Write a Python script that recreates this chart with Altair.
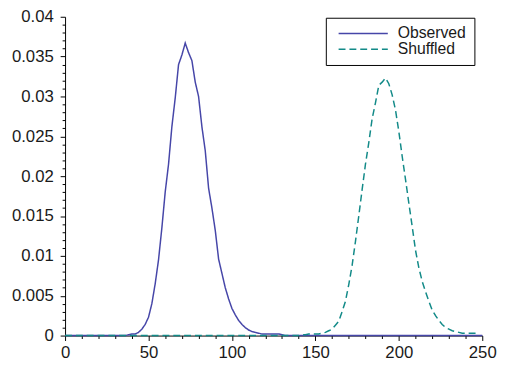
import altair as alt
import pandas as pd

series = ["Observed", "Shuffled"]
colors = ["#4646a8", "#128a88"]
dashes = [[1, 0], [7, 4]]

obs_x = [0] + list(range(36, 133, 2)) + [250]
obs_y = [0.0,
         0.0000, 0.0001, 0.0002, 0.0002, 0.0004, 0.0008, 0.0014, 0.0023, 0.0040, 0.0065,
         0.0095, 0.0135, 0.0180, 0.0215, 0.0262, 0.0298, 0.0340, 0.0352, 0.0367, 0.0355,
         0.0345, 0.0318, 0.0300, 0.0262, 0.0232, 0.0185, 0.0160, 0.0132, 0.0096, 0.0078,
         0.0060, 0.0046, 0.0034, 0.0026, 0.0019, 0.0014, 0.0010, 0.0007, 0.0005, 0.0004,
         0.0003, 0.0002, 0.0002, 0.0002, 0.0002, 0.0002, 0.0002, 0.0001, 0.0000,
         0.0]

shf_x = [0] + list(range(140, 249, 2))
shf_y = [0.0,
         0.0000, 0.0001, 0.0001, 0.0002, 0.0002, 0.0002, 0.0002, 0.0003, 0.0004, 0.0006,
         0.0008, 0.0013, 0.0018, 0.0030, 0.0043, 0.0064, 0.0088, 0.0118, 0.0150, 0.0183,
         0.0215, 0.0242, 0.0272, 0.0292, 0.0314, 0.0318, 0.0323, 0.0316, 0.0302, 0.0283,
         0.0256, 0.0225, 0.0196, 0.0166, 0.0137, 0.0107, 0.0085, 0.0068, 0.0055, 0.0043,
         0.0032, 0.0025, 0.0019, 0.0014, 0.0010, 0.0008, 0.0006, 0.0005, 0.0004, 0.0003,
         0.0003, 0.0003, 0.0003, 0.0003, 0.0003]

x_ticks = list(range(0, 251, 10))
y_ticks = [round(i * 0.001, 3) for i in range(41)]

df = pd.concat([
    pd.DataFrame({"series": series[0], "x": obs_x, "y": obs_y}),
    pd.DataFrame({"series": series[1], "x": shf_x, "y": shf_y}),
])

legend = alt.Legend(
    orient="none", legendX=265, legendY=1, title=None,
    strokeColor="black", fillColor="white", padding=8,
    symbolType="M-5,0H5", symbolSize=100, symbolStrokeWidth=1.5,
    symbolOffset=22,
    labelFont="Liberation Sans", labelFontSize=16, labelColor="#1a1a1a",
    labelOffset=27, rowPadding=0,
    labelExpr="datum.label + '\u00a0\u00a0\u00a0\u00a0\u00a0'",
)

chart = alt.Chart(df).mark_line(strokeWidth=1.5).encode(
    x=alt.X("x:Q", title=None,
            scale=alt.Scale(domain=[0, 250], nice=False),
            axis=alt.Axis(values=x_ticks, grid=False,
                          labelExpr="datum.value % 50 == 0 ? datum.label : ''",
                          tickSize={"condition": {"test": "datum.value % 50 == 0", "value": 5}, "value": 3},
                          labelPadding=4, labelFlush=False)),
    y=alt.Y("y:Q", title=None,
            scale=alt.Scale(domain=[0, 0.04], nice=False),
            axis=alt.Axis(values=y_ticks, grid=False,
                          labelExpr="round(datum.value*1000) % 5 == 0 ? format(datum.value, '~g') : ''",
                          tickSize={"condition": {"test": "round(datum.value*1000) % 5 == 0", "value": 5}, "value": 3},
                          labelPadding=7, labelFlush=False)),
    color=alt.Color("series:N", scale=alt.Scale(domain=series, range=colors), legend=legend),
    strokeDash=alt.StrokeDash("series:N", scale=alt.Scale(domain=series, range=dashes), legend=legend),
    order=alt.Order("x:Q"),
).properties(
    width=424, height=324,
    autosize=alt.AutoSizeParams(type="none"),
    padding={"left": 58, "top": 6, "right": 17, "bottom": 27},
).configure_view(stroke=None).configure_axis(
    domainColor="black", tickColor="black", domainWidth=1, tickWidth=1,
    labelFont="Liberation Sans", labelFontSize=17, labelColor="#1a1a1a",
)

chart.save("out.html", embed_options={"renderer": "svg", "actions": False})
